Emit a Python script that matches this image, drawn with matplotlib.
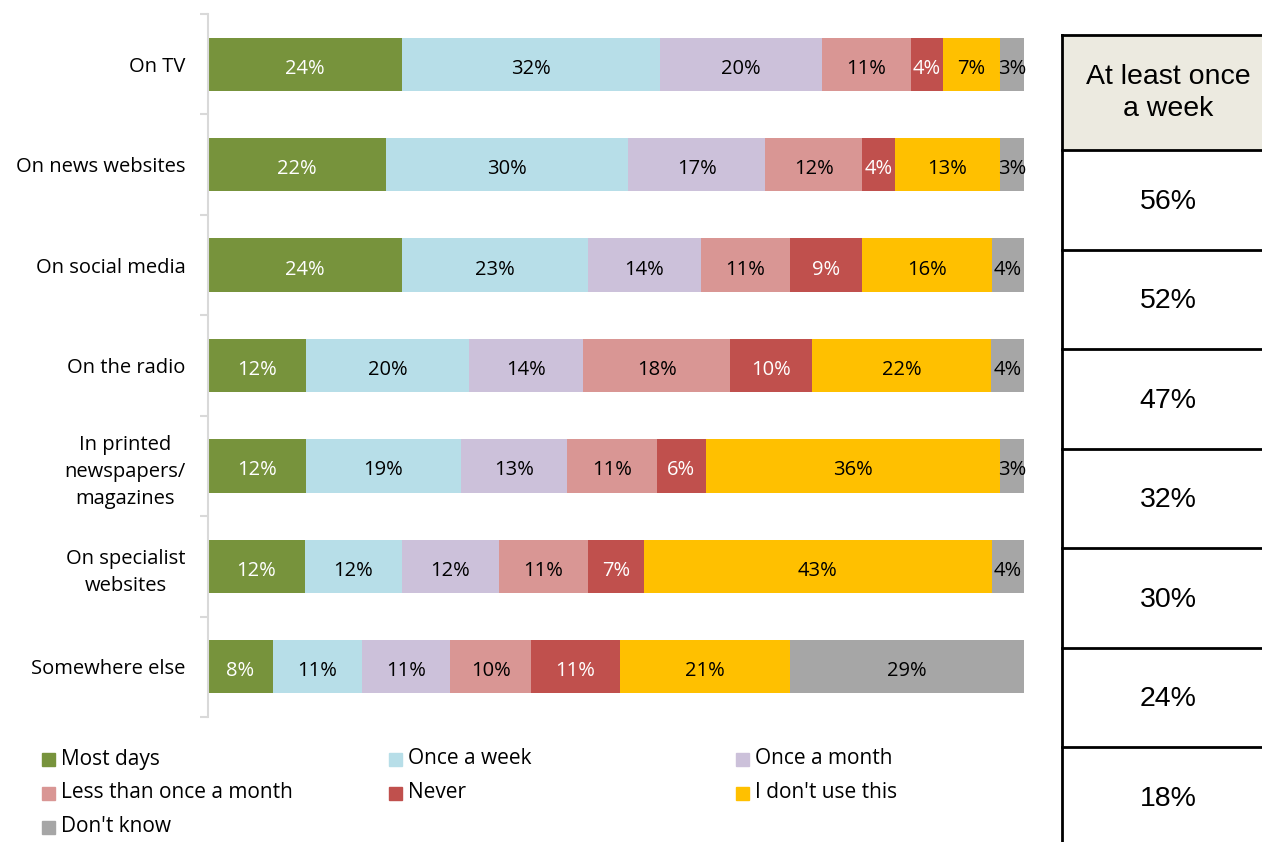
import numpy as np
import matplotlib.pyplot as plt
from matplotlib.patches import Rectangle

# Data
channels = ['On TV', 'On news websites', 'On social media', 'On the radio',
            'In printed\nnewspapers/\nmagazines', 'On specialist\nwebsites',
            'Somewhere else']
answers = ['Most days', 'Once a week', 'Once a month', 'Less than once a month',
           'Never', "I don't use this", "Don't know"]
most_days = [24, 22, 24, 12, 12, 12, 8]
once_week = [32, 30, 23, 20, 19, 12, 11]
once_month = [20, 17, 14, 14, 13, 12, 11]
less_month = [11, 12, 11, 18, 11, 11, 10]
never = [4, 4, 9, 10, 6, 7, 11]
dont_use = [7, 13, 16, 22, 36, 43, 21]
dont_know = [3, 3, 4, 4, 3, 4, 29]
weekly_header = 'At least once\na week'
weekly = [56, 52, 47, 32, 30, 24, 18]

colors = ['#77933C', '#B7DEE8', '#CCC1DA', '#D99694', '#C0504D', '#FFC000', '#A6A6A6']
label_colors = ['white', 'black', 'black', 'black', 'white', 'black', 'black']

FONT = ['Open Sans', 'DejaVu Sans']
TFONT = ['Liberation Sans', 'DejaVu Sans']

series = np.array([most_days, once_week, once_month, less_month,
                   never, dont_use, dont_know], dtype=float)
# 100% stacked: normalise each row to its total
shares = series / series.sum(axis=0) * 100

W, H = 1262, 842
fig = plt.figure(figsize=(W / 100, H / 100), dpi=100)
ax = fig.add_axes([208 / W, (H - 717) / H, 816 / W, 703 / H])

y = np.arange(len(channels))
left = np.zeros(len(channels))
for i, name in enumerate(answers):
    ax.barh(y, shares[i], left=left, height=0.53, color=colors[i], label=name)
    for j in range(len(channels)):
        ax.text(left[j] + shares[i][j] / 2, y[j] + 0.02, f'{int(series[i][j])}%',
                ha='center', va='center_baseline', fontsize=14.5,
                color=label_colors[i], family=FONT)
    left += shares[i]

ax.set_xlim(0, 100)
ax.set_ylim(len(channels) - 0.5, -0.5)
ax.set_xticks([])
ax.set_yticks(y)
ax.set_yticklabels(channels, fontsize=14.5, family=FONT, multialignment='center',
                   linespacing=1.45)
ax.tick_params(axis='y', which='major', length=0, pad=16)
ax.set_yticks(np.arange(-0.5, len(channels)), minor=True)
ax.tick_params(axis='y', which='minor', length=6, width=1.5, color='#D9D9D9')
for s in ['top', 'right', 'bottom']:
    ax.spines[s].set_visible(False)
ax.spines['left'].set_color('#D9D9D9')
ax.spines['left'].set_linewidth(1.5)

# overlay in pixel coords for legend and side table
ov = fig.add_axes([0, 0, 1, 1])
ov.set_xlim(0, W)
ov.set_ylim(H, 0)
ov.axis('off')

# legend, row-major in 3 columns
for k, name in enumerate(answers):
    r, c = divmod(k, 3)
    x0 = 42 + c * 347
    yc = 759 + r * 34
    ov.add_patch(Rectangle((x0, yc - 6.5), 13, 13, color=colors[k]))
    ov.text(x0 + 19, yc, name, va='center', ha='left', fontsize=15, family=FONT)

# side table
tx0, tx1 = 1062, 1262
top, head_bot, row_h = 35, 150, 99.5
ov.add_patch(Rectangle((tx0, top), tx1 - tx0, head_bot - top,
                       facecolor='#ECEAE0', edgecolor='none'))
ov.text((tx0 + tx1) / 2 + 6, (top + head_bot) / 2 + 1, weekly_header, ha='center',
        va='center', fontsize=20.5, family=TFONT, linespacing=1.3)
ov.plot([tx0, tx0], [top, H], color='black', lw=2)
ov.plot([tx0, tx1], [top, top], color='black', lw=2)
for k, v in enumerate(weekly):
    y0 = head_bot + k * row_h
    ov.plot([tx0, tx1], [y0, y0], color='black', lw=2)
    ov.text((tx0 + tx1) / 2 + 6, y0 + row_h / 2 + 2, f'{v}%', ha='center',
            va='center', fontsize=20.5, family=TFONT)

fig.savefig('out.png', dpi=100)
